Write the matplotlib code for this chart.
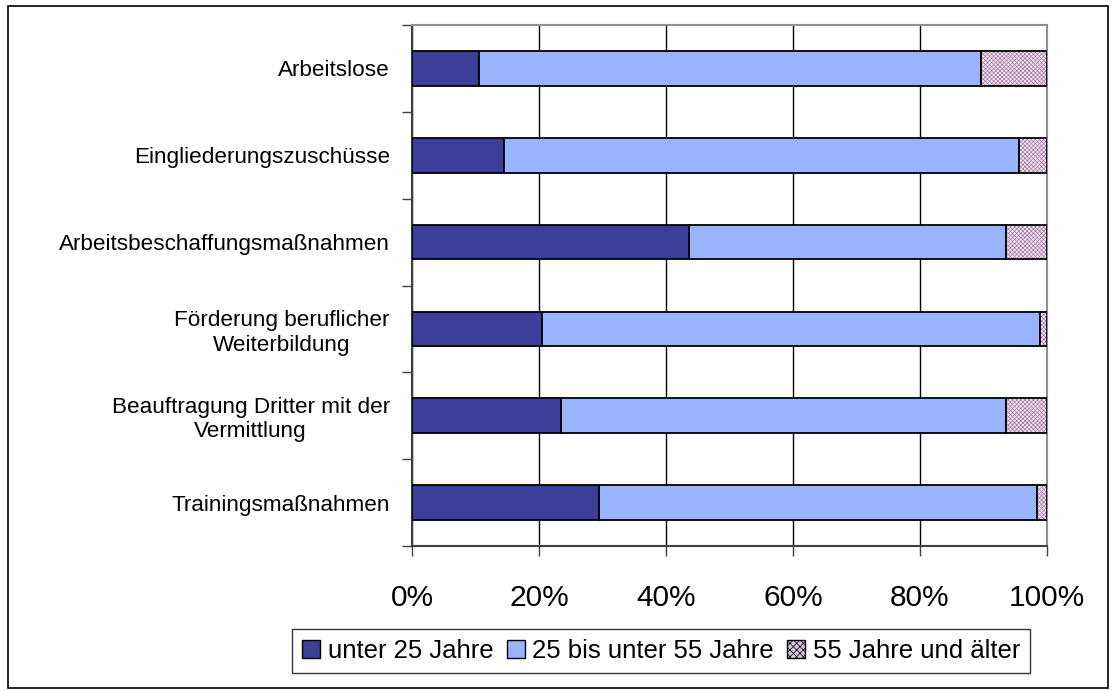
import matplotlib
matplotlib.use("Agg")
import matplotlib.pyplot as plt
import numpy as np
from matplotlib.patches import Patch, Rectangle

# ── Data (shares in %) ───────────────────────────────────────────────────────
categories = [
    "Arbeitslose",
    "Eingliederungszuschüsse",
    "Arbeitsbeschaffungsmaßnahmen",
    "Förderung beruflicher\nWeiterbildung",
    "Beauftragung Dritter mit der\nVermittlung",
    "Trainingsmaßnahmen",
]
under_25 = [10.5, 14.5, 43.7, 20.5, 23.5, 29.4]
age_25_55 = [79.1, 81.1, 49.9, 78.4, 70.1, 69.0]
over_55 = [10.4, 4.4, 6.4, 1.1, 6.4, 1.6]
series_labels = ["unter 25 Jahre", "25 bis unter 55 Jahre", "55 Jahre und älter"]
x_ticks = [0, 20, 40, 60, 80, 100]

DARK = "#3B3F9A"
LIGHT = "#99B3FF"
OLD_FACE = "#F4E8F4"
OLD_HATCH = "#A57AA5"

plt.rcParams["font.family"] = ["Liberation Sans", "DejaVu Sans"]
plt.rcParams["hatch.linewidth"] = 0.5

fig = plt.figure(figsize=(11.15, 6.91), dpi=100)
ax = fig.add_axes([0.3695, 0.2098, 0.5695, 0.754])

y = np.arange(len(categories))
h = 0.4
left2 = np.array(under_25)
left3 = left2 + np.array(age_25_55)

ax.barh(y, under_25, height=h, color=DARK, edgecolor="black", linewidth=1.3, zorder=3)
ax.barh(y, age_25_55, left=left2, height=h, color=LIGHT, edgecolor="black", linewidth=1.3, zorder=3)
ax.barh(y, over_55, left=left3, height=h, color=OLD_FACE, edgecolor=OLD_HATCH,
        hatch="xxxxxxxx", linewidth=0, zorder=3)
ax.barh(y, over_55, left=left3, height=h, fill=False, edgecolor="black", linewidth=1.3, zorder=4)

ax.set_xlim(0, 100)
ax.set_ylim(len(categories) - 0.5, -0.5)

ax.set_xticks(x_ticks)
ax.set_xticklabels([f"{v}%" for v in x_ticks], fontsize=21.5)
ax.tick_params(axis="x", direction="out", length=7, width=1, pad=20, color="#404040")
ax.xaxis.grid(True, color="black", linewidth=1, zorder=1)

ax.set_yticks(y)
ax.set_yticklabels(categories, fontsize=16.2, multialignment="center")
ax.tick_params(axis="y", which="major", length=0, pad=16)
ax.set_yticks(np.arange(-0.5, len(categories), 1), minor=True)
ax.tick_params(axis="y", which="minor", direction="out", length=7, width=1, color="#404040")

for side in ("top", "right"):
    ax.spines[side].set_color("#909090")
    ax.spines[side].set_linewidth(1.5)
for side in ("left", "bottom"):
    ax.spines[side].set_color("#404040")
    ax.spines[side].set_linewidth(1.5)

handles = [
    Patch(facecolor=DARK, edgecolor="black", label=series_labels[0]),
    Patch(facecolor=LIGHT, edgecolor="black", label=series_labels[1]),
    Patch(facecolor="#D8C2D8", edgecolor="black", hatch="xxxxx", label=series_labels[2]),
]
leg = fig.legend(handles=handles, loc="center", bbox_to_anchor=(0.593, 0.058), ncol=3,
                 fontsize=18.5, frameon=True, fancybox=False, edgecolor="black",
                 handlelength=0.7, handleheight=0.7, handletextpad=0.3,
                 columnspacing=0.5, borderpad=0.4, borderaxespad=0)
leg.get_frame().set_linewidth(1)

# outer chart border
fig.patches.append(Rectangle((0.007, 0.004), 0.987, 0.988, transform=fig.transFigure,
                             fill=False, edgecolor="black", linewidth=1.2))

fig.savefig("out.png", dpi=100)
